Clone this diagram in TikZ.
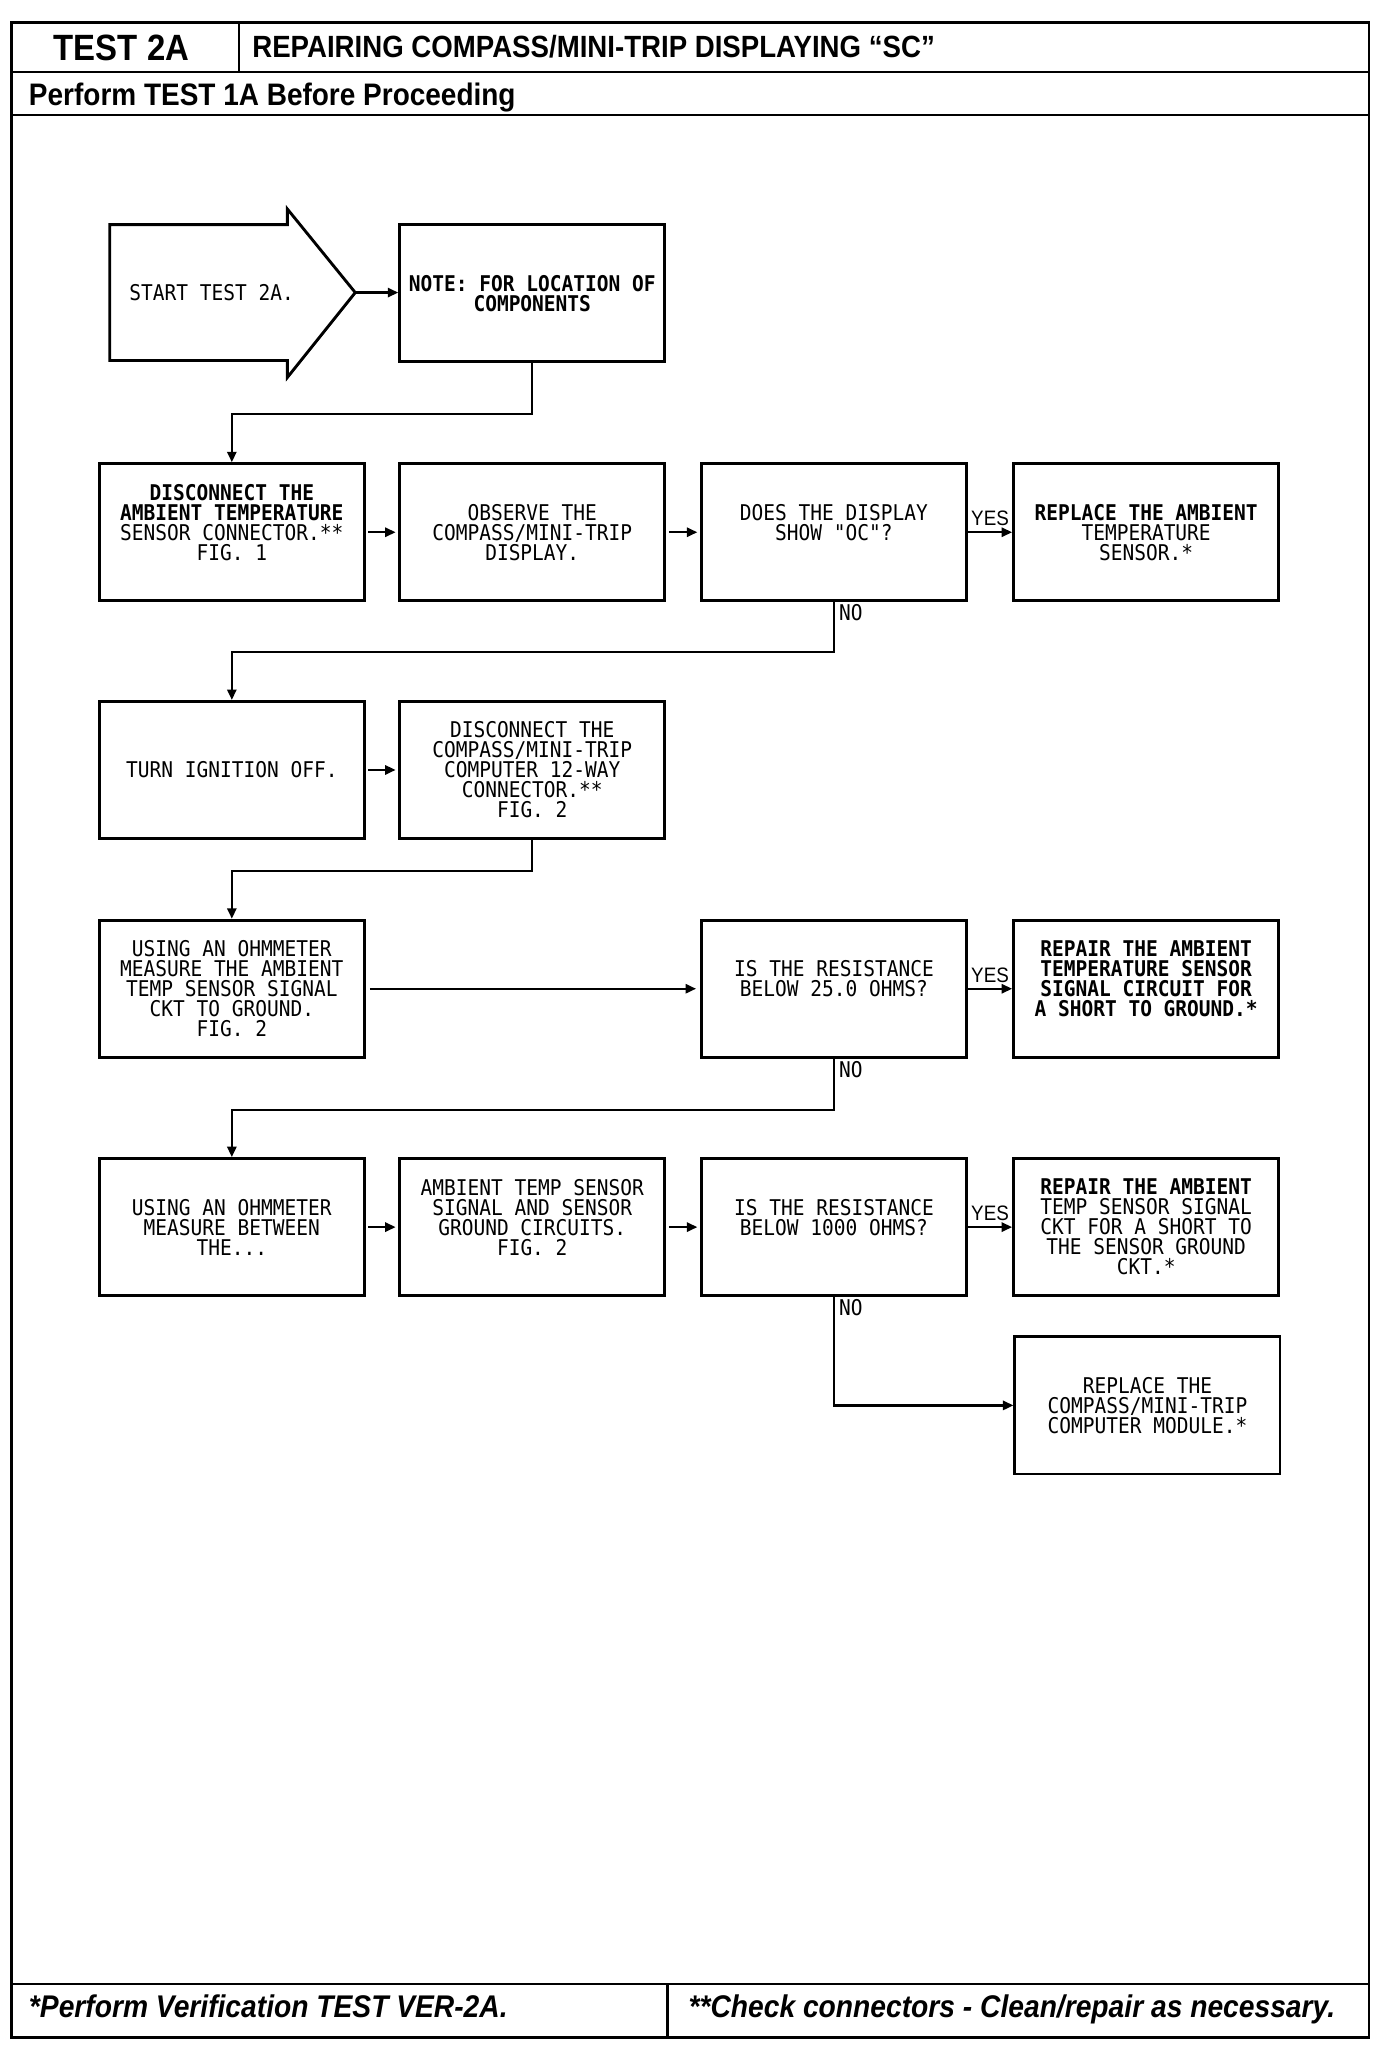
\documentclass[tikz,border=0pt]{standalone}
\usepackage{fontspec}
\setmainfont{Liberation Sans}
\newfontfamily\hdrfont[FakeStretch=0.9]{Liberation Sans}
\newfontfamily\boxfont[FakeStretch=0.9]{DejaVu Sans Mono}
\usetikzlibrary{arrows.meta}
\begin{document}
\begin{tikzpicture}[x=1pt,y=-1pt,
  box/.style={draw, line width=2.2pt, minimum width=203pt, minimum height=105pt, inner sep=0pt, align=center, font=\boxfont\fontsize{16.6}{15.3}\selectfont},
  arr/.style={line width=1.8pt, -{Triangle[length=8pt,width=7pt]}},
  lbl/.style={font=\boxfont\fontsize{16.6}{15.3}\selectfont, inner sep=1pt},
  yes/.style={font=\hdrfont\fontsize{16}{16}\selectfont, inner sep=1pt},
  frame/.style={line width=2pt},
  hdr/.style={anchor=base west, inner sep=0pt, font=\hdrfont\bfseries\fontsize{23.8}{23.8}\selectfont},
  foot/.style={anchor=base west, inner sep=0pt, font=\hdrfont\bfseries\itshape\fontsize{24}{24}\selectfont}]
\useasboundingbox (0,0) rectangle (1066,1568);

% frame
\draw[frame] (9,17) rectangle (1048,1560);
\draw[frame] (9,55) -- (1048,55);
\draw[frame] (183,17) -- (183,55);
\draw[frame] (9,88) -- (1048,88);
\draw[frame] (9,1519) -- (1048,1519);
\draw[frame] (511,1519) -- (511,1560);

\node[font=\hdrfont\bfseries\fontsize{28}{28}\selectfont, inner sep=0pt] (testid) at (93,37) {TEST 2A};
\node[hdr, font=\hdrfont\bfseries\fontsize{23.5}{23.5}\selectfont] (title) at (193,44) {REPAIRING COMPASS/MINI-TRIP DISPLAYING “SC”};
\node[hdr] (pre) at (22,81) {Perform TEST 1A Before Proceeding};
\node[foot] (foot1) at (22,1545) {*Perform Verification TEST VER-2A.};
\node[foot] (foot2) at (527,1545) {**Check connectors - Clean/repair as necessary.};

% start arrow
\draw[line width=2.2pt, line join=miter] (84,172) -- (220,172) -- (220,160) -- (272,224) -- (220,289) -- (220,276) -- (84,276) -- cycle;
\coordinate (tip) at (272,224);
\node[lbl] (start) at (162,224) {START TEST 2A.};

% boxes
\node[box] (note) at (407.5,224.5) {\bfseries NOTE: FOR LOCATION OF\\\bfseries COMPONENTS};

\node[box] (b1) at (177.5,407.5) {\bfseries DISCONNECT THE\\\bfseries AMBIENT TEMPERATURE\\\mdseries SENSOR CONNECTOR.**\\FIG. 1\\~};
\node[box] (b2) at (407.5,407.5) {OBSERVE THE\\COMPASS/MINI-TRIP\\DISPLAY.};
\node[box] (b3) at (638.5,407.5) {DOES THE DISPLAY\\SHOW "OC"?\\~};
\node[box] (b4) at (877.5,407.5) {\bfseries REPLACE THE AMBIENT\\\mdseries TEMPERATURE\\SENSOR.*};

\node[box] (c1) at (177.5,589.5) {TURN IGNITION OFF.};
\node[box] (c2) at (407.5,589.5) {DISCONNECT THE\\COMPASS/MINI-TRIP\\COMPUTER 12-WAY\\CONNECTOR.**\\FIG. 2};

\node[box] (d1) at (177.5,757) {USING AN OHMMETER\\MEASURE THE AMBIENT\\TEMP SENSOR SIGNAL\\CKT TO GROUND.\\FIG. 2};
\node[box] (d2) at (638.5,757) {IS THE RESISTANCE\\BELOW 25.0 OHMS?\\~};
\node[box] (d3) at (877.5,757) {\bfseries REPAIR THE AMBIENT\\\bfseries TEMPERATURE SENSOR\\\bfseries SIGNAL CIRCUIT FOR\\\bfseries A SHORT TO GROUND.*\\~};

\node[box] (e1) at (177.5,939.5) {USING AN OHMMETER\\MEASURE BETWEEN\\THE...};
\node[box] (e2) at (407.5,939.5) {AMBIENT TEMP SENSOR\\SIGNAL AND SENSOR\\GROUND CIRCUITS.\\FIG. 2\\~};
\node[box] (e3) at (638.5,939.5) {IS THE RESISTANCE\\BELOW 1000 OHMS?\\~};
\node[box] (e4) at (877.5,939.5) {\bfseries REPAIR THE AMBIENT\\\mdseries TEMP SENSOR SIGNAL\\CKT FOR A SHORT TO\\THE SENSOR GROUND\\CKT.*};

\node[box] (f1) at (878.5,1076) {REPLACE THE\\COMPASS/MINI-TRIP\\COMPUTER MODULE.*};

% connectors
\draw[arr] (tip) -- (tip -| note.west);
\draw[arr] (note.south) -- ++(0,39) -| (b1.north);
\draw[arr, shorten <=2pt, shorten >=2pt] (b1) -- (b2);
\draw[arr, shorten <=2pt, shorten >=2pt] (b2) -- (b3);
\draw[arr] (b3) -- node[yes, above=3pt] (yes1) {YES} (b4);
\draw[arr] (b3.south) -- node[lbl, pos=0, anchor=north west, xshift=2pt] (no1) {NO} ++(0,38) -| (c1.north);
\draw[arr, shorten <=2pt, shorten >=2pt] (c1) -- (c2);
\draw[arr] (c2.south) -- ++(0,24) -| (d1.north);
\draw[arr, shorten <=3pt, shorten >=3pt] (d1) -- (d2);
\draw[arr] (d2) -- node[yes, above=3pt] (yes2) {YES} (d3);
\draw[arr] (d2.south) -- node[lbl, pos=0, anchor=north west, xshift=2pt] (no2) {NO} ++(0,39) -| (e1.north);
\draw[arr, shorten <=2pt, shorten >=2pt] (e1) -- (e2);
\draw[arr, shorten <=2pt, shorten >=2pt] (e2) -- (e3);
\draw[arr] (e3) -- node[yes, above=3pt] (yes3) {YES} (e4);
\draw[arr] (e3.south) -- node[lbl, pos=0, anchor=north west, xshift=2pt] (no3) {NO} ++(0,50) |- (f1.west);
\end{tikzpicture}
\end{document}
